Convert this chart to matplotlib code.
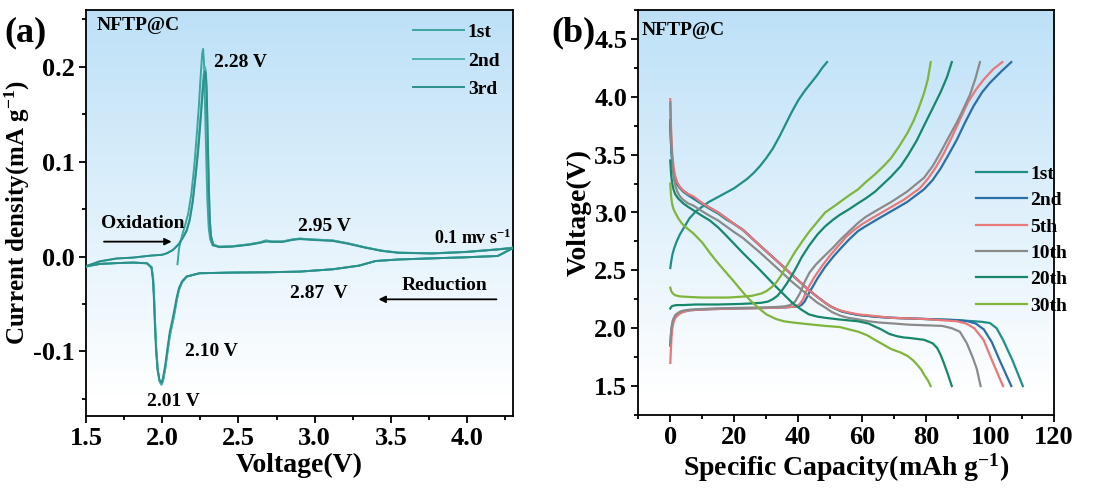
import matplotlib
matplotlib.use("Agg")
import matplotlib.pyplot as plt
import numpy as np
from matplotlib.ticker import MultipleLocator

plt.rcParams['font.family'] = ['Liberation Serif', 'DejaVu Serif']
plt.rcParams['font.weight'] = 'bold'
plt.rcParams['mathtext.fontset'] = 'custom'
plt.rcParams['mathtext.rm'] = 'Liberation Serif:bold'
plt.rcParams['mathtext.bf'] = 'Liberation Serif:bold'
plt.rcParams['mathtext.default'] = 'bf'
plt.rcParams['axes.unicode_minus'] = False
plt.rcParams['axes.linewidth'] = 1.3

# ---------------- (a) CV data ----------------
# cycles 2 and 3: oxidation sweep 1.5 -> 4.3 V
ox_v = [1.50, 1.59, 1.70, 1.81, 1.92, 2.00, 2.03, 2.07, 2.11, 2.14, 2.16, 2.18, 2.20, 2.22,
        2.235, 2.25, 2.262, 2.272, 2.280, 2.286, 2.292, 2.298, 2.305, 2.312, 2.32, 2.335,
        2.375, 2.46, 2.57, 2.64, 2.68, 2.72, 2.79, 2.85, 2.90, 3.00, 3.12, 3.22, 3.33,
        3.44, 3.55, 3.77, 3.99, 4.20, 4.30]
ox2_i = [-0.0105, -0.005, -0.002, -0.001, 0.001, 0.002, 0.0035, 0.007, 0.014, 0.022, 0.028,
         0.040, 0.060, 0.090, 0.115, 0.145, 0.172, 0.192, 0.200, 0.196, 0.175, 0.130, 0.080,
         0.040, 0.022, 0.013, 0.0105, 0.011, 0.013, 0.015, 0.017, 0.016, 0.016, 0.018,
         0.019, 0.018, 0.017, 0.014, 0.0098, 0.0063, 0.0042, 0.0035, 0.005, 0.0077, 0.0095]
ox3_i = [-0.0100, -0.005, -0.002, -0.001, 0.001, 0.002, 0.0035, 0.007, 0.013, 0.021, 0.027,
         0.038, 0.057, 0.086, 0.110, 0.140, 0.166, 0.186, 0.195, 0.193, 0.172, 0.128, 0.078,
         0.038, 0.021, 0.012, 0.0100, 0.0105, 0.0125, 0.0145, 0.016, 0.0155, 0.0155, 0.0175,
         0.0185, 0.0175, 0.0165, 0.0135, 0.0095, 0.006, 0.004, 0.0033, 0.0048, 0.0075, 0.009]
# reduction sweep 4.3 -> 1.5 V
red_v = [4.30, 4.20, 3.99, 3.77, 3.55, 3.40, 3.29, 3.12, 2.90, 2.68, 2.46, 2.245, 2.16,
         2.13, 2.11, 2.095, 2.08, 2.065, 2.05, 2.035, 2.02, 2.005, 1.995, 1.982, 1.97,
         1.96, 1.952, 1.946, 1.94, 1.93, 1.90, 1.81, 1.70, 1.59, 1.50]
red2_i = [0.009, 0.0007, -0.0007, -0.0018, -0.003, -0.0046, -0.0095, -0.0133, -0.0158,
          -0.0165, -0.0168, -0.0175, -0.021, -0.027, -0.035, -0.046, -0.060, -0.072,
          -0.083, -0.100, -0.118, -0.131, -0.135, -0.131, -0.118, -0.095, -0.065, -0.040,
          -0.022, -0.011, -0.007, -0.0063, -0.0068, -0.0077, -0.0105]
red3_i = [0.009, 0.0007, -0.0007, -0.0018, -0.003, -0.0046, -0.0095, -0.0133, -0.0158,
          -0.0165, -0.0168, -0.0175, -0.021, -0.026, -0.033, -0.043, -0.056, -0.068,
          -0.079, -0.096, -0.114, -0.128, -0.133, -0.130, -0.120, -0.100, -0.072, -0.046,
          -0.026, -0.012, -0.007, -0.0063, -0.0068, -0.0077, -0.0100]
# cycle 1 starts at open circuit 2.10 V
ox1_v = [2.10, 2.105, 2.11, 2.12, 2.135, 2.15, 2.17, 2.19, 2.21, 2.225, 2.24, 2.252, 2.262,
         2.268, 2.274, 2.280, 2.288, 2.296, 2.305, 2.315, 2.33, 2.375, 2.46, 2.57, 2.64,
         2.68, 2.72, 2.79, 2.85, 2.90, 3.00, 3.12, 3.22, 3.33, 3.44, 3.55, 3.77, 3.99,
         4.20, 4.30]
ox1_i = [-0.008, 0.000, 0.008, 0.016, 0.025, 0.033, 0.045, 0.065, 0.095, 0.125, 0.158,
         0.190, 0.214, 0.219, 0.205, 0.165, 0.110, 0.060, 0.030, 0.018, 0.012, 0.0105,
         0.011, 0.013, 0.015, 0.017, 0.016, 0.016, 0.018, 0.019, 0.018, 0.017, 0.014,
         0.0098, 0.0063, 0.0042, 0.0035, 0.005, 0.0077, 0.0095]
red1_i = red2_i
cv_labels = ['1st', '2nd', '3rd']
cv_colors = ['#3aa6a0', '#4fb3ad', '#2b8f8a']

# ---------------- (b) charge/discharge data ----------------
cycles = ['1st', '2nd', '5th', '10th', '20th', '30th']
gcd_colors = ['#1f8f86', '#2b6ea8', '#e8787a', '#8a8a8a', '#17876c', '#7fb53a']

chg_cap = {
    '1st': [0, 0.3, 0.7, 1.2, 2, 3, 4.5, 6, 8, 10, 12, 14, 16, 18, 20, 22, 24, 26, 28, 30,
            32, 34, 36, 38, 40, 42, 44, 46, 47.5, 49],
    '2nd': [0, 0.2, 0.4, 0.7, 1.1, 1.6, 2.3, 3.2, 4.5, 6, 9, 13, 20, 30, 36, 38.5, 40, 41,
            42, 43.3, 46, 48.4, 51, 53.6, 56, 58.7, 61, 64, 69, 74, 79.3, 82, 84.5, 87,
            89.6, 92, 94.8, 97.5, 99.9, 103.5, 106.6],
    '5th': [0, 0.2, 0.4, 0.7, 1.1, 1.6, 2.3, 3.2, 4.5, 6, 9, 13, 20, 30, 36, 38, 39.5,
            40.5, 41.5, 42.5, 45, 47.5, 50, 52.5, 55, 57.5, 60, 63, 68, 73, 78, 80.5, 83,
            85.5, 88, 90.5, 93, 95.5, 98, 101, 103.8],
    '10th': [0, 0.2, 0.4, 0.7, 1.1, 1.6, 2.3, 3.2, 4.5, 6, 9, 13, 20, 30, 34, 36, 37.5, 39,
             40.5, 42, 43.5, 45.5, 48.4, 51, 53, 56, 58.7, 61, 64, 69, 74, 79.3, 82, 84.5,
             87, 89.6, 91.7, 93.7, 95.3, 96.8],
    '20th': [0, 0.2, 0.5, 1, 2, 4, 8, 15, 22, 26, 28.5, 30.5, 32, 33.5, 35, 36.5, 38.1,
             39.5, 41, 43.3, 46, 48.4, 51, 53, 56, 58.7, 61, 64, 69, 72, 74.2, 77, 79.3,
             82, 84.5, 86.5, 88],
    '30th': [0, 0.3, 0.8, 1.5, 3, 6, 10, 14, 18, 21, 23.5, 25.5, 27, 28.5, 30, 31.5, 33,
             34.5, 36, 37.5, 39, 40.5, 42, 43.3, 46, 48.4, 51, 53, 56, 58.7, 61, 64, 67,
             69, 71.5, 74.2, 76, 77.5, 79.3, 80.5, 81.4],
}
chg_v = {
    '1st': [2.52, 2.58, 2.64, 2.69, 2.75, 2.81, 2.88, 2.95, 3.01, 3.05, 3.09, 3.12, 3.15,
            3.18, 3.21, 3.25, 3.29, 3.34, 3.40, 3.47, 3.55, 3.65, 3.76, 3.87, 3.97, 4.05,
            4.12, 4.19, 4.25, 4.30],
    '2nd': [1.85, 1.93, 1.99, 2.04, 2.08, 2.10, 2.12, 2.135, 2.145, 2.155, 2.16, 2.165, 2.17,
            2.175, 2.18, 2.185, 2.19, 2.20, 2.23, 2.30, 2.43, 2.53, 2.62, 2.70, 2.77, 2.84,
            2.88, 2.93, 3.01, 3.09, 3.20, 3.28, 3.38, 3.50, 3.63, 3.77, 3.92, 4.04, 4.12,
            4.22, 4.30],
    '5th': [1.70, 1.82, 1.93, 2.01, 2.06, 2.09, 2.11, 2.13, 2.145, 2.155, 2.16, 2.165, 2.17,
            2.175, 2.18, 2.185, 2.19, 2.21, 2.25, 2.32, 2.44, 2.54, 2.63, 2.71, 2.79, 2.85,
            2.90, 2.95, 3.03, 3.11, 3.21, 3.29, 3.39, 3.51, 3.65, 3.80, 3.95, 4.06, 4.15,
            4.24, 4.30],
    '10th': [1.87, 1.95, 2.01, 2.06, 2.09, 2.115, 2.13, 2.145, 2.155, 2.16, 2.165, 2.17,
             2.175, 2.18, 2.185, 2.19, 2.20, 2.23, 2.30, 2.40, 2.48, 2.55, 2.63, 2.70, 2.76,
             2.84, 2.91, 2.96, 3.01, 3.09, 3.18, 3.30, 3.40, 3.52, 3.65, 3.78, 3.90, 4.02,
             4.15, 4.30],
    '20th': [2.17, 2.18, 2.19, 2.195, 2.20, 2.20, 2.205, 2.205, 2.21, 2.215, 2.22, 2.23,
             2.25, 2.28, 2.33, 2.39, 2.46, 2.53, 2.61, 2.71, 2.81, 2.88, 2.94, 2.98, 3.03,
             3.08, 3.12, 3.18, 3.31, 3.40, 3.49, 3.62, 3.75, 3.90, 4.04, 4.17, 4.30],
    '30th': [2.35, 2.32, 2.30, 2.285, 2.275, 2.27, 2.265, 2.265, 2.265, 2.27, 2.275, 2.28,
             2.29, 2.30, 2.32, 2.35, 2.39, 2.45, 2.52, 2.59, 2.66, 2.72, 2.78, 2.83, 2.92,
             3.00, 3.05, 3.09, 3.15, 3.20, 3.26, 3.33, 3.41, 3.47, 3.57, 3.69, 3.79, 3.89,
             4.03, 4.15, 4.30],
}
dis_cap = {
    '1st': [0, 0.15, 0.3, 0.6, 1, 1.5, 2.2, 3, 4, 5.5, 7.2, 10, 12.4, 15, 17.5, 20, 22.7,
            27.8, 33, 38.1, 43.3, 46, 48.4, 50, 51.5, 53.6, 56, 58.7, 64, 69, 79.3, 89.6,
            95, 97.5, 99.9, 102, 104, 107, 110.2],
    '2nd': [0, 0.15, 0.3, 0.6, 1, 1.5, 2.2, 3, 4, 5.5, 7.2, 10, 12.4, 15, 17.5, 20, 22.7,
            27.8, 33, 38.1, 43.3, 46, 48.4, 50, 51.5, 53.6, 56, 58.7, 64, 69, 79.3, 89.6,
            93, 95.5, 98, 100.5, 103, 106.6],
    '5th': [0, 0.15, 0.3, 0.6, 1, 1.5, 2.2, 3, 4, 5.5, 7.2, 10, 12.4, 15, 17.5, 20, 22.7,
            27.8, 33, 38.1, 43.3, 46, 48.4, 50, 51.5, 53.6, 56, 58.7, 64, 69, 79.3, 89.6,
            92.5, 95, 97.9, 100.9, 104],
    '10th': [0, 0.15, 0.3, 0.6, 1, 1.5, 2.2, 3, 4, 5.5, 7.2, 10, 12.4, 15, 17.5, 20, 22.7,
             27.8, 33, 38.1, 43.3, 46, 48.4, 50.5, 53, 55.5, 58, 62, 65, 75, 85, 88, 90.5,
             92.7, 94.5, 95.8, 97],
    '20th': [0, 0.15, 0.3, 0.6, 1, 1.5, 2.5, 4, 5.5, 7.2, 10, 12.4, 15, 17.5, 22.7, 27.8,
             33, 38.1, 41, 43.3, 46, 48.4, 53, 58.7, 62, 65.9, 68.5, 71, 73, 75, 79.3, 82,
             83.4, 84.5, 85.5, 86.8, 88],
    '30th': [0, 0.15, 0.3, 0.6, 1, 1.7, 2.5, 3.5, 4.5, 7.2, 10, 12.4, 15, 17.5, 20, 22.7,
             25, 27.8, 30, 33, 35.5, 38.1, 43, 48.4, 53, 58.7, 61.5, 63.9, 66.5, 69, 72,
             74.2, 76, 77.3, 78.5, 79.3, 80.5, 81.4],
}
dis_v = {
    '1st': [3.78, 3.65, 3.55, 3.44, 3.35, 3.29, 3.24, 3.21, 3.18, 3.15, 3.12, 3.07, 3.03,
            2.99, 2.94, 2.90, 2.85, 2.72, 2.59, 2.46, 2.33, 2.27, 2.22, 2.19, 2.17, 2.145,
            2.13, 2.115, 2.10, 2.09, 2.08, 2.07, 2.06, 2.055, 2.045, 2.00, 1.90, 1.72, 1.50],
    '2nd': [3.80, 3.66, 3.56, 3.45, 3.36, 3.30, 3.25, 3.22, 3.19, 3.16, 3.13, 3.08, 3.04,
            3.00, 2.95, 2.90, 2.85, 2.72, 2.59, 2.46, 2.33, 2.27, 2.22, 2.19, 2.17, 2.145,
            2.13, 2.115, 2.10, 2.09, 2.08, 2.07, 2.06, 2.04, 1.99, 1.88, 1.72, 1.50],
    '5th': [3.98, 3.82, 3.68, 3.52, 3.40, 3.32, 3.26, 3.22, 3.19, 3.16, 3.14, 3.08, 3.04,
            3.00, 2.95, 2.90, 2.85, 2.72, 2.59, 2.46, 2.33, 2.27, 2.22, 2.19, 2.17, 2.15,
            2.135, 2.12, 2.105, 2.09, 2.08, 2.06, 2.04, 2.00, 1.90, 1.70, 1.50],
    '10th': [3.95, 3.78, 3.62, 3.45, 3.32, 3.24, 3.18, 3.14, 3.11, 3.08, 3.06, 3.01, 2.97,
             2.93, 2.88, 2.83, 2.78, 2.66, 2.53, 2.40, 2.28, 2.22, 2.18, 2.14, 2.11, 2.09,
             2.08, 2.06, 2.05, 2.03, 2.02, 2.00, 1.97, 1.87, 1.75, 1.65, 1.50],
    '20th': [3.45, 3.38, 3.32, 3.25, 3.20, 3.16, 3.12, 3.08, 3.05, 3.02, 2.97, 2.93, 2.87,
             2.80, 2.65, 2.51, 2.36, 2.22, 2.16, 2.12, 2.10, 2.09, 2.075, 2.06, 2.04, 1.99,
             1.95, 1.93, 1.92, 1.915, 1.90, 1.87, 1.83, 1.77, 1.70, 1.60, 1.50],
    '30th': [3.25, 3.18, 3.13, 3.07, 3.03, 2.99, 2.95, 2.91, 2.88, 2.82, 2.74, 2.65, 2.56,
             2.48, 2.40, 2.31, 2.24, 2.17, 2.12, 2.08, 2.06, 2.05, 2.035, 2.02, 2.01, 1.97,
             1.94, 1.90, 1.86, 1.82, 1.79, 1.76, 1.72, 1.68, 1.64, 1.60, 1.55, 1.50],
}


def gradient_bg(ax):
    top = np.array([0.74, 0.88, 0.97])
    bot = np.array([1.0, 1.0, 1.0])
    t = np.linspace(0, 1, 256)[:, None]
    t = np.clip(t * 1.05, 0, 1)
    img = (top[None, :] * (1 - t) + bot[None, :] * t)[:, None, :]
    ax.imshow(img, extent=[0, 1, 0, 1], transform=ax.transAxes, aspect='auto',
              zorder=0, origin='upper')


def style_axes(ax):
    ax.tick_params(which='both', direction='out', top=False, right=False,
                   labelsize=19, width=1.3, pad=3)
    ax.tick_params(which='major', length=5)
    ax.tick_params(which='minor', length=3)


fig = plt.figure(figsize=(11.12, 5.0), dpi=100)

# ---------------- panel (a) ----------------
ax1 = fig.add_axes([0.0773, 0.168, 0.384, 0.812])
gradient_bg(ax1)
ax1.plot(ox1_v, ox1_i, color=cv_colors[0], lw=1.4, label=cv_labels[0], zorder=3)
ax1.plot(red_v, red1_i, color=cv_colors[0], lw=1.4, zorder=3)
ax1.plot(ox_v, ox2_i, color=cv_colors[1], lw=1.4, label=cv_labels[1], zorder=3)
ax1.plot(red_v, red2_i, color=cv_colors[1], lw=1.4, zorder=3)
ax1.plot(ox_v, ox3_i, color=cv_colors[2], lw=1.4, label=cv_labels[2], zorder=3)
ax1.plot(red_v, red3_i, color=cv_colors[2], lw=1.4, zorder=3)
ax1.set_xlim(1.5, 4.3)
ax1.set_ylim(-0.168, 0.26)
ax1.xaxis.set_major_locator(MultipleLocator(0.5))
ax1.xaxis.set_minor_locator(MultipleLocator(0.25))
ax1.yaxis.set_major_locator(MultipleLocator(0.1))
ax1.yaxis.set_minor_locator(MultipleLocator(0.05))
style_axes(ax1)
ax1.set_xlabel('Voltage(V)', fontsize=20, fontweight='bold', labelpad=2)
ax1.set_ylabel('Current density(mA g$^{-1}$)', fontsize=18, fontweight='bold', labelpad=1)
ax1.legend(loc='upper right', frameon=False, fontsize=14, handlelength=2.6,
           handletextpad=0.2, labelspacing=0.55, borderaxespad=0.3)
ax1.text(1.57, 0.244, 'NFTP@C', fontsize=14, fontweight='bold', va='center')
ax1.text(2.34, 0.205, '2.28 V', fontsize=14, fontweight='bold', va='center')
ax1.text(1.60, 0.035, 'Oxidation', fontsize=14, fontweight='bold', va='center')
ax1.annotate('', xy=(2.08, 0.0158), xytext=(1.60, 0.0158),
             arrowprops=dict(arrowstyle='-|>', color='black', lw=1.3, mutation_scale=10))
ax1.text(2.89, 0.0316, '2.95 V', fontsize=14, fontweight='bold', va='center')
ax1.text(4.29, 0.019, '0.1 mv s$^{-1}$', fontsize=13, fontweight='bold', va='center', ha='right')
ax1.text(3.57, -0.030, 'Reduction', fontsize=14, fontweight='bold', va='center')
ax1.annotate('', xy=(3.40, -0.045), xytext=(4.21, -0.045),
             arrowprops=dict(arrowstyle='-|>', color='black', lw=1.3, mutation_scale=10))
ax1.text(2.84, -0.039, '2.87  V', fontsize=14, fontweight='bold', va='center')
ax1.text(2.15, -0.100, '2.10 V', fontsize=14, fontweight='bold', va='center')
ax1.text(1.90, -0.153, '2.01 V', fontsize=14, fontweight='bold', va='center')
fig.text(0.004, 0.935, '(a)', fontsize=26, fontweight='bold', va='center')

# ---------------- panel (b) ----------------
ax2 = fig.add_axes([0.574, 0.17, 0.374, 0.81])
gradient_bg(ax2)
for name, col in zip(cycles, gcd_colors):
    ax2.plot(chg_cap[name], chg_v[name], color=col, lw=1.6, label=name, zorder=3)
    ax2.plot(dis_cap[name], dis_v[name], color=col, lw=1.6, zorder=3)
ax2.set_xlim(-10, 120)
ax2.set_ylim(1.25, 4.75)
ax2.xaxis.set_major_locator(MultipleLocator(20))
ax2.xaxis.set_minor_locator(MultipleLocator(10))
ax2.yaxis.set_major_locator(MultipleLocator(0.5))
ax2.yaxis.set_minor_locator(MultipleLocator(0.25))
style_axes(ax2)
ax2.set_xlabel('Specific Capacity(mAh g$^{-1}$)', fontsize=20, fontweight='bold', labelpad=2)
ax2.set_ylabel('Voltage(V)', fontsize=20, fontweight='bold', labelpad=2)
ax2.legend(loc='upper left', bbox_to_anchor=(0.77, 0.66), frameon=False, fontsize=14,
           handlelength=2.6, handletextpad=0.2, labelspacing=0.45)
ax2.text(-8.8, 4.57, 'NFTP@C', fontsize=14, fontweight='bold', va='center')
fig.text(0.496, 0.935, '(b)', fontsize=26, fontweight='bold', va='center')

fig.savefig('out.png', dpi=100)
